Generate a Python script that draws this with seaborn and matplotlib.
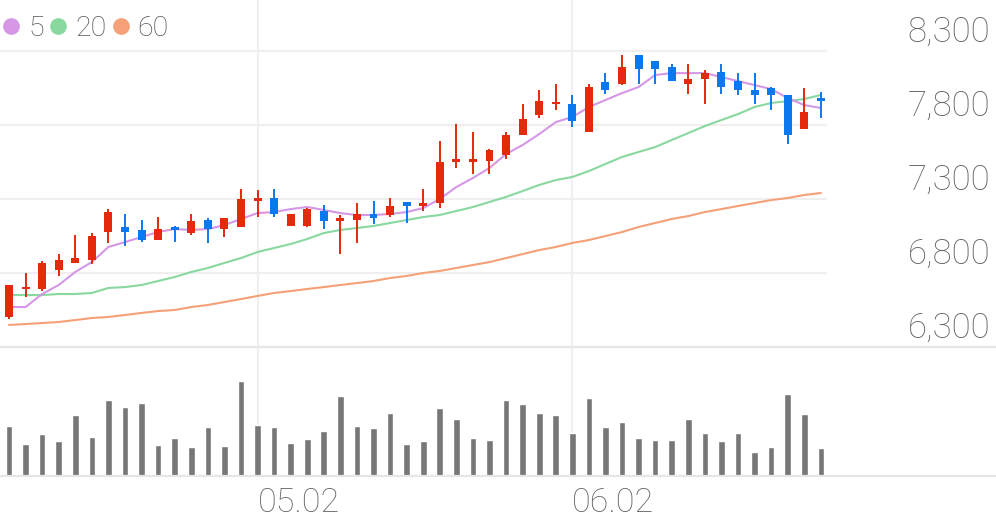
import matplotlib
matplotlib.use("Agg")
import matplotlib.pyplot as plt
import seaborn as sns
import numpy as np
from matplotlib.lines import Line2D

# 일봉 데이터 (원)
open_ = [6500, 6690, 6690, 6820, 6870, 6890, 7080, 7110, 7090, 7020,
         7110, 7070, 7160, 7100, 7110, 7290, 7310, 7120, 7120, 7220,
         7150, 7160, 7200, 7190, 7280, 7250, 7270, 7550, 7550, 7560,
         7600, 7730, 7870, 7940, 7940, 7750, 8090, 8080, 8270, 8230,
         8190, 8080, 8110, 8160, 8100, 8040, 8050, 8000, 7770, 7980]
high = [6720, 6800, 6880, 6930, 7060, 7070, 7230, 7200, 7160, 7180,
        7120, 7200, 7170, 7170, 7370, 7360, 7370, 7200, 7240, 7260,
        7190, 7270, 7290, 7310, 7280, 7370, 7690, 7810, 7750, 7640,
        7750, 7940, 8040, 8080, 8000, 8080, 8150, 8270, 8270, 8230,
        8210, 8210, 8170, 8210, 8150, 8150, 8060, 8000, 8050, 8020]
low = [6490, 6640, 6680, 6780, 6870, 6860, 7000, 6980, 7010, 7020,
       7010, 7060, 7000, 7040, 7110, 7180, 7180, 7120, 7110, 7100,
       6930, 7000, 7130, 7180, 7140, 7220, 7240, 7510, 7470, 7470,
       7570, 7730, 7850, 7900, 7790, 7750, 8010, 8070, 8080, 8080,
       8100, 8010, 7940, 8010, 8000, 7940, 7900, 7670, 7770, 7850]
close = [6720, 6690, 6870, 6890, 6900, 7050, 7210, 7080, 7020, 7100,
         7090, 7150, 7100, 7170, 7300, 7290, 7200, 7200, 7230, 7150,
         7170, 7200, 7170, 7250, 7250, 7270, 7550, 7550, 7550, 7630,
         7730, 7840, 7960, 7940, 7830, 8060, 8040, 8190, 8180, 8180,
         8100, 8110, 8150, 8060, 8040, 8000, 8000, 7730, 7890, 7960]

# 이동평균선
ma5 = [6570, 6570, 6658, 6719, 6807, 6874, 6976, 7009, 7043, 7077,
       7097, 7091, 7097, 7124, 7165, 7205, 7212, 7232, 7246, 7226,
       7205, 7192, 7192, 7199, 7212, 7239, 7300, 7381, 7442, 7510,
       7604, 7665, 7739, 7820, 7854, 7922, 7969, 8016, 8057, 8138,
       8151, 8151, 8151, 8124, 8097, 8070, 8043, 7982, 7935, 7915]
ma20 = [6651, 6651, 6651, 6658, 6658, 6665, 6699, 6705, 6719, 6746,
        6773, 6807, 6834, 6868, 6901, 6942, 6969, 6996, 7030, 7070,
        7091, 7104, 7118, 7138, 7158, 7178, 7192, 7219, 7246, 7280,
        7314, 7354, 7395, 7428, 7449, 7489, 7537, 7584, 7618, 7651,
        7699, 7746, 7793, 7834, 7874, 7922, 7949, 7962, 7976, 8003]
ma60 = [6449, 6455, 6462, 6469, 6482, 6496, 6503, 6516, 6530, 6543,
        6550, 6570, 6584, 6604, 6624, 6645, 6665, 6678, 6692, 6705,
        6719, 6732, 6746, 6766, 6780, 6800, 6814, 6834, 6854, 6874,
        6901, 6928, 6955, 6976, 7003, 7023, 7050, 7077, 7111, 7138,
        7165, 7185, 7212, 7232, 7253, 7273, 7293, 7307, 7327, 7341]

# 거래량 (천주)
volume = [500, 320, 420, 350, 610, 390, 760, 690, 730, 310,
          380, 290, 490, 300, 950, 510, 490, 330, 370, 450,
          800, 500, 480, 630, 320, 350, 680, 570, 380, 360,
          760, 720, 630, 610, 430, 780, 490, 540, 380, 360,
          360, 570, 430, 350, 430, 240, 290, 820, 620, 280]

date_ticks = [15, 34]
date_labels = ["05.02", "06.02"]
price_ticks = [8300, 7800, 7300, 6800, 6300]
price_labels = ["8,300", "7,800", "7,300", "6,800", "6,300"]
ma_names = ["5", "20", "60"]

UP = "#e5290b"
DOWN = "#0b78ef"
MA_COLORS = ["#d597e6", "#88d8a0", "#f5a077"]
GRID = "#efefef"
TXT = "#666666"

sns.set_theme(style="white")
plt.rcParams["font.family"] = ["Roboto", "DejaVu Sans"]

W, H = 996, 519
fig = plt.figure(figsize=(W / 100, H / 100), dpi=100)
ax = fig.add_axes([0, (H - 347) / H, 1, 347 / H])
axv = fig.add_axes([0, (H - 476) / H, 1, 129 / H])

idx = np.arange(len(close))
o = np.array(open_)
c = np.array(close)
colors = [UP if cc >= oo else DOWN for oo, cc in zip(o, c)]

# 그리드
for p in price_ticks[:-1]:
    ax.axhline(p, xmax=826 / W, color=GRID, lw=1.5, zorder=0)
for t in date_ticks:
    ax.axvline(t, color=GRID, lw=1.5, zorder=0)
    axv.axvline(t, color=GRID, lw=1.5, zorder=0)

# 이동평균선
for ma, col in zip([ma60, ma20, ma5], MA_COLORS[::-1]):
    sns.lineplot(x=idx, y=ma, color=col, lw=1.5, ax=ax, zorder=2)

# 캔들
ax.vlines(idx, low, high, colors=colors, lw=1.4, zorder=3)
body_b = np.minimum(o, c)
body_h = np.maximum(np.abs(c - o), 18)
ax.bar(idx, body_h, bottom=body_b, width=0.48, color=colors, lw=0, zorder=4)

ax.set_xlim(-0.543, 59.57)
ax.set_ylim(6300, 8645)
ax.set_xticks([])
ax.set_yticks([])
ax.set_xlabel("")
ax.set_ylabel("")
for s in ["top", "left", "right"]:
    ax.spines[s].set_visible(False)
ax.spines["bottom"].set_color("#e6e6e6")
ax.spines["bottom"].set_linewidth(1.6)

for p, lab in zip(price_ticks, price_labels):
    ax.annotate(lab, xy=(990 / W, p), xycoords=ax.get_yaxis_transform(),
                xytext=(0, 13.5), textcoords="offset points",
                ha="right", va="center", fontsize=25, color=TXT,
                fontweight="light")

handles = [Line2D([0], [0], marker="o", ls="", ms=12, color=col,
                  markeredgewidth=0) for col in MA_COLORS]
ax.legend(handles, ma_names, loc="upper left",
          bbox_to_anchor=(-0.006, 1 - 6 / 347),
          ncol=3, frameon=False, handlelength=0.6,
          handletextpad=0.3, columnspacing=0.2, borderaxespad=0,
          borderpad=0.3, labelcolor="#555555",
          prop={"size": 20.5, "weight": "light"})

# 거래량
sns.barplot(x=idx, y=volume, native_scale=True, width=0.4, color="#777777",
            saturation=1, errorbar=None, ax=axv, zorder=2)
axv.set_xlim(-0.543, 59.57)
axv.set_ylim(0, 1290)
axv.set_yticks([])
axv.set_xlabel("")
axv.set_ylabel("")
axv.set_xticks(date_ticks, date_labels)
axv.tick_params(axis="x", length=0, pad=8, labelsize=24.5, labelcolor=TXT)
for lbl in axv.get_xticklabels():
    lbl.set_ha("left")
    lbl.set_fontweight("light")
for s in ["top", "left", "right"]:
    axv.spines[s].set_visible(False)
axv.spines["bottom"].set_color("#e6e6e6")
axv.spines["bottom"].set_linewidth(1.6)
axv.patch.set_alpha(0)
ax.patch.set_alpha(0)

fig.savefig("out.png", dpi=100)
